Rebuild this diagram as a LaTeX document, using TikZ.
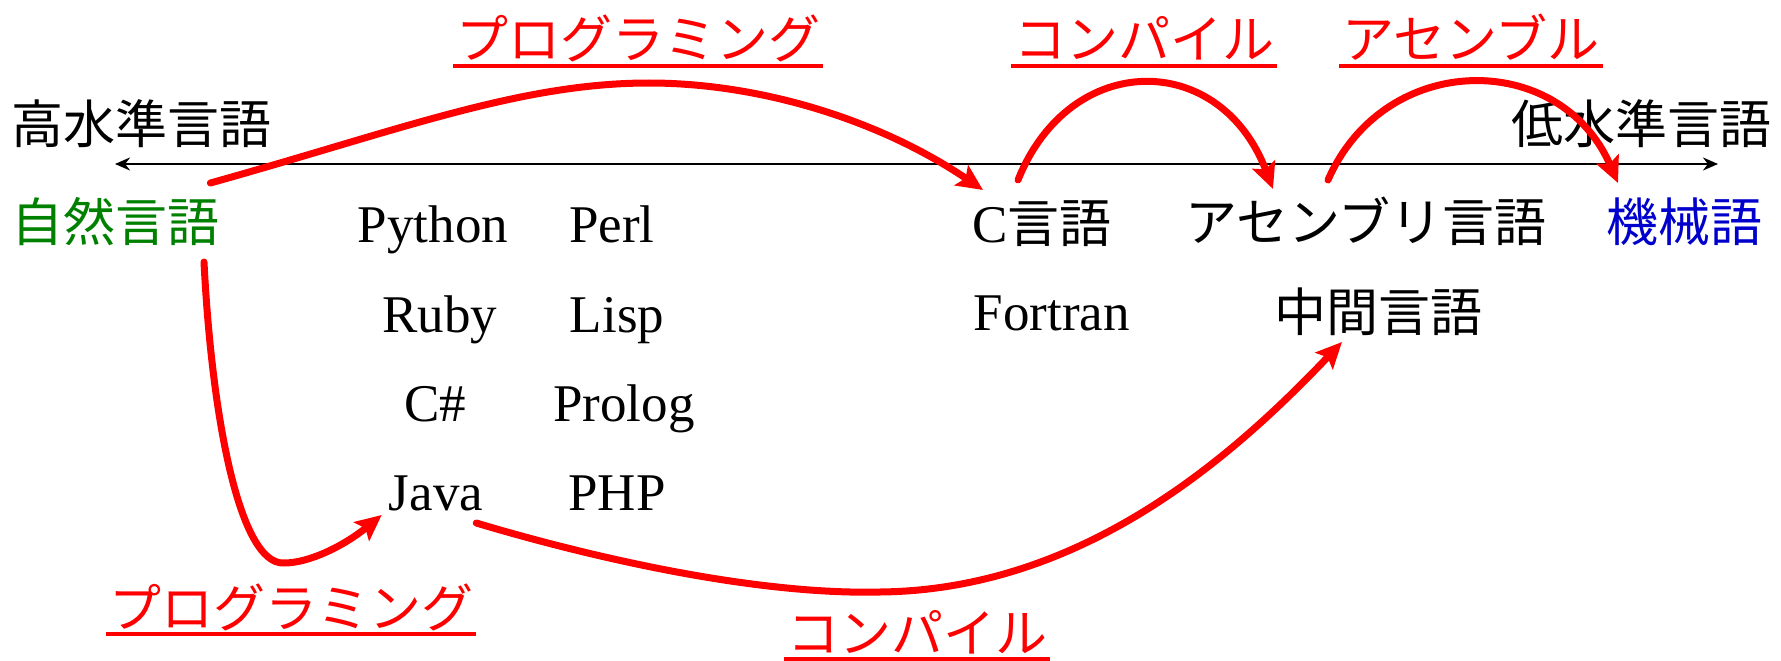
\documentclass[tikz,border=0pt]{standalone}
\usepackage{fontspec}
\setmainfont{Liberation Serif}
\newfontfamily\jp{Noto Sans CJK JP}
\usetikzlibrary{arrows.meta}
\definecolor{natgreen}{RGB}{0,128,0}
\definecolor{machblue}{RGB}{0,0,204}
\definecolor{lblred}{RGB}{255,0,0}
\begin{document}
\begin{tikzpicture}[x=1pt,y=-1pt,
  jptext/.style={inner sep=0pt, font=\jp\fontsize{52}{60}\selectfont},
  lat/.style={inner sep=0pt, font=\fontsize{53}{60}\selectfont, anchor=base},
  lbl/.style={jptext, text=lblred, anchor=base},
  ul/.style={draw=lblred, line width=4pt},
  flow/.style={draw=lblred, line width=7pt, line cap=round, -{Stealth[length=26pt,width=24pt,inset=5pt]}},
  axis/.style={draw=black, line width=2.5pt, {Stealth[length=15pt,width=13pt]}-{Stealth[length=15pt,width=13pt]}}
]
\useasboundingbox (0,0) rectangle (1781,661);

% axis labels
\node[jptext, anchor=base west] (high) at (11,143) {高水準言語};
\node[jptext, anchor=base west] (low) at (1511,143) {低水準言語};

% languages
\node[jptext, anchor=base west, text=natgreen] (nat) at (11,241) {自然言語};
\node[lat] (py) at (433,242) {Python};
\node[lat] (perl) at (612,242) {Perl};
\node[lat] (ruby) at (440,332) {Ruby};
\node[lat] (lisp) at (617,332) {Lisp};
\node[lat] (cs) at (435,421) {C\#};
\node[lat] (prolog) at (624,421) {Prolog};
\node[lat] (java) at (436,510) {Java};
\node[lat] (php) at (617,510) {PHP};
\node[lat, anchor=base west] (c) at (972,242) {C{\jp\fontsize{52}{60}\selectfont 言語}};
\node[lat] (fortran) at (1052,330) {Fortran};
\node[jptext, anchor=base west] (asm) at (1185,241) {アセンブリ言語};
\node[jptext, anchor=base west, text=machblue] (mach) at (1606,241) {機械語};
\node[jptext, anchor=base west] (mid) at (1274,331) {中間言語};

% red labels
\node[lbl] (lp1) at (638,59) {プログラミング};
\node[lbl] (lc1) at (1144,59) {コンパイル};
\node[lbl] (la) at (1471,59) {アセンブル};
\node[lbl] (lp2) at (291,627) {プログラミング};
\node[lbl] (lc2) at (917,652) {コンパイル};
\foreach \n in {lp1,lc1,la,lp2,lc2}{
  \draw[ul] ([shift={(-3,7)}]\n.base west) -- ([shift={(3,7)}]\n.base east);
}

% axis
\coordinate (axL) at (115,164);
\coordinate (axR) at (1718,164);
\draw[axis] (axL) -- (axR);

% flows
\draw[flow] ([shift={(-9,-58)}]nat.base east) .. controls (400,130) and (520,83) .. (649,83) .. controls (760,83) and (880,120) .. ([shift={(11,-52)}]c.base west);
\draw[flow] ([shift={(46,-62)}]c.base west) .. controls (1070,50) and (1220,50) .. ([shift={(88,-52)}]asm.base west);
\draw[flow] ([shift={(143,-61)}]asm.base west) .. controls (1385,50) and (1560,50) .. ([shift={(12,-58)}]mach.base west);
\draw[flow] ([shift={(193,21)}]nat.base west) .. controls (212,420) and (240,565) .. (284,563) .. controls (310,563) and (345,545) .. ([shift={(-7,5)}]java.base west);
\draw[flow] ([shift={(-7,13)}]java.base east) .. controls (600,560) and (760,595) .. (880,592) .. controls (1080,590) and (1230,460) .. ([shift={(68,11)}]mid.base west);
\end{tikzpicture}
\end{document}
